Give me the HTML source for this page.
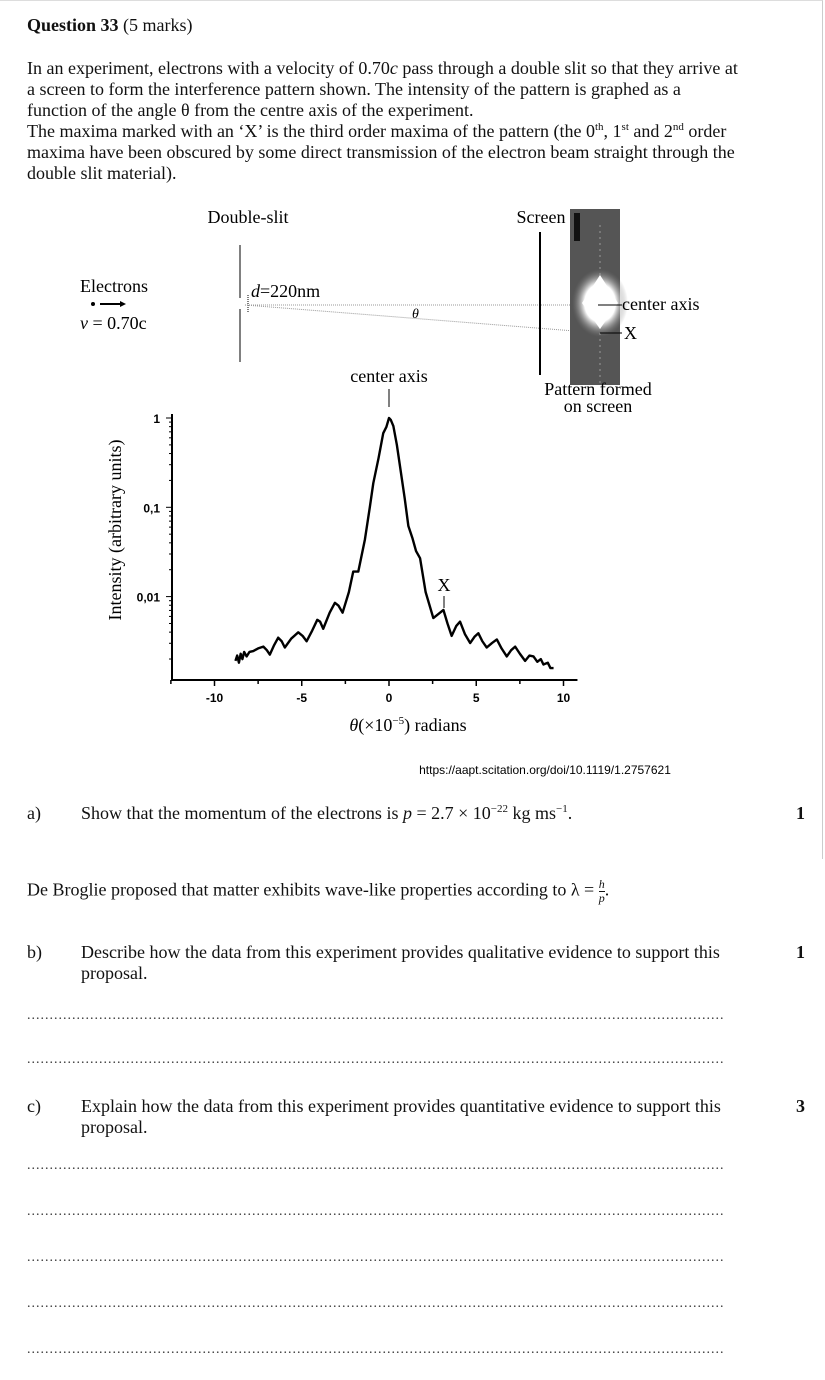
<!DOCTYPE html>
<html><head><meta charset="utf-8">
<style>
body{margin:0;width:825px;height:1380px;background:#fff;position:relative;font-family:"Liberation Serif",serif;font-size:18px;color:#111;overflow:hidden}
.t{position:absolute;white-space:nowrap;line-height:21px}
.dots{position:absolute;left:27px;width:697px;overflow:hidden;white-space:nowrap;color:#333;font-size:14px;letter-spacing:1px}
sup{font-size:11px;line-height:0}
.fr{display:inline-block;vertical-align:middle;text-align:center;font-size:12px;line-height:13px;font-style:italic}
.fr span{display:block}
.fr span:first-child{border-bottom:1px solid #111}
</style></head><body>
<div style="position:absolute;left:0;top:0;width:822px;height:858px;border-right:1px solid #ccc;border-top:1px solid #ddd"></div>
<div class="t" style="left:27px;top:15px"><b>Question 33</b> (5 marks)</div>
<div class="t" style="left:27px;top:58px">In an experiment, electrons with a velocity of 0.70<i>c</i> pass through a double slit so that they arrive at<br>a screen to form the interference pattern shown. The intensity of the pattern is graphed as a<br>function of the angle θ from the centre axis of the experiment.<br>The maxima marked with an ‘X’ is the third order maxima of the pattern (the 0<sup>th</sup>, 1<sup>st</sup> and 2<sup>nd</sup> order<br>maxima have been obscured by some direct transmission of the electron beam straight through the<br>double slit material).</div>

<svg width="825" height="760" style="position:absolute;left:0;top:195px" font-family="Liberation Serif, serif">
<defs><radialGradient id="g" cx="50%" cy="50%" r="50%"><stop offset="0" stop-color="#fff"/><stop offset="0.55" stop-color="#fff"/><stop offset="1" stop-color="#777" stop-opacity="0"/></radialGradient></defs>
<g>
<text x="248" y="28" font-size="18" text-anchor="middle">Double-slit</text>
<text x="541" y="28" font-size="18" text-anchor="middle">Screen</text>
<text x="80" y="97" font-size="18">Electrons</text>
<circle cx="93" cy="109" r="2" fill="#000"/><line x1="100" y1="109" x2="120" y2="109" stroke="#000" stroke-width="2"/><polygon points="120,106 126,109 120,112"/>
<text x="80" y="134" font-size="18"><tspan font-style="italic">v</tspan> = 0.70c</text>
<line x1="240" y1="50" x2="240" y2="103" stroke="#000"/><line x1="240" y1="114" x2="240" y2="167" stroke="#000"/>
<line x1="248" y1="100" x2="248" y2="118" stroke="#000" stroke-dasharray="1,1"/>
<text x="251" y="102" font-size="18"><tspan font-style="italic">d</tspan>=220nm</text>
<line x1="245" y1="110" x2="600" y2="110" stroke="#999" stroke-dasharray="1,1"/>
<line x1="245" y1="110" x2="600" y2="138" stroke="#999" stroke-dasharray="1,1"/>
<text x="412" y="123" font-size="14" font-style="italic">θ</text>
<line x1="540" y1="37" x2="540" y2="180" stroke="#000" stroke-width="2"/>
<rect x="570" y="14" width="50" height="176" fill="#555"/>
<rect x="574" y="18" width="6" height="28" fill="#111"/>
<line x1="600" y1="30" x2="600" y2="190" stroke="#999" stroke-width="1" stroke-dasharray="2,4"/>
<ellipse cx="600" cy="108" rx="28" ry="34" fill="url(#g)"/>
<polygon points="600,80 618,108 600,134 582,108" fill="#fff"/>
<line x1="598" y1="110" x2="622" y2="110" stroke="#000"/><text x="622" y="115" font-size="18">center axis</text>
<line x1="600" y1="138" x2="622" y2="138" stroke="#000"/><text x="624" y="144" font-size="18">X</text>
<text x="598" y="200" font-size="18" text-anchor="middle">Pattern formed</text>
<text x="598" y="217" font-size="18" text-anchor="middle">on screen</text>
<text x="389" y="187" font-size="18" text-anchor="middle">center axis</text>
<line x1="389" y1="194" x2="389" y2="212" stroke="#000"/>
<text x="444" y="396" font-size="18" text-anchor="middle">X</text>
<line x1="444" y1="401" x2="444" y2="413" stroke="#000"/>
</g>
<g id="chart"></g>
<text transform="translate(121,335) rotate(-90)" font-size="18" text-anchor="middle">Intensity (arbitrary units)</text>
<text x="408" y="536" font-size="18" text-anchor="middle"><tspan font-style="italic">θ</tspan>(×10<tspan font-size="11" dy="-7">−5</tspan><tspan dy="7">) radians</tspan></text>
<text x="545" y="579" font-size="12" font-family="Liberation Sans, sans-serif" text-anchor="middle">https://aapt.scitation.org/doi/10.1119/1.2757621</text>
</svg>

<div class="t" style="left:27px;top:803px">a)</div>
<div class="t" style="left:81px;top:803px">Show that the momentum of the electrons is <i>p</i> = 2.7 × 10<sup>−22</sup> kg ms<sup>−1</sup>.</div>
<div class="t" style="left:796px;top:803px"><b>1</b></div>
<div class="t" style="left:27px;top:878px">De Broglie proposed that matter exhibits wave-like properties according to λ = <span class="fr"><span>h</span><span>p</span></span>.</div>
<div class="t" style="left:27px;top:942px">b)</div>
<div class="t" style="left:81px;top:942px">Describe how the data from this experiment provides qualitative evidence to support this<br>proposal.</div>
<div class="t" style="left:796px;top:942px"><b>1</b></div>
<div class="dots" style="top:1008px">..................................................................................................................................................................</div>
<div class="dots" style="top:1052px">..................................................................................................................................................................</div>
<div class="t" style="left:27px;top:1096px">c)</div>
<div class="t" style="left:81px;top:1096px">Explain how the data from this experiment provides quantitative evidence to support this<br>proposal.</div>
<div class="t" style="left:796px;top:1096px"><b>3</b></div>
<div class="dots" style="top:1158px">..................................................................................................................................................................</div>
<div class="dots" style="top:1204px">..................................................................................................................................................................</div>
<div class="dots" style="top:1250px">..................................................................................................................................................................</div>
<div class="dots" style="top:1296px">..................................................................................................................................................................</div>
<div class="dots" style="top:1342px">..................................................................................................................................................................</div>

<script>
const thetaVals=[-8.8,-8.7,-8.6,-8.5,-8.4,-8.3,-8.16,-8.0,-7.78,-7.5,-7.2,-7.0,-6.83,-6.6,-6.35,-6.15,-5.97,-5.6,-5.2,-4.95,-4.72,-4.4,-4.11,-3.95,-3.77,-3.4,-3.1,-2.9,-2.66,-2.3,-2.05,-1.76,-1.38,-1.1,-0.9,-0.6,-0.33,-0.15,0,0.1,0.25,0.45,0.63,0.9,1.11,1.35,1.55,1.78,2.1,2.54,2.8,3.12,3.35,3.59,3.85,4.07,4.35,4.65,4.9,5.12,5.35,5.6,5.9,6.18,6.45,6.75,7.0,7.23,7.5,7.8,8.05,8.28,8.5,8.7,8.85,9.1,9.25,9.43];
const logIntensity=[-2.72,-2.66,-2.74,-2.64,-2.70,-2.62,-2.67,-2.62,-2.61,-2.58,-2.56,-2.60,-2.65,-2.55,-2.46,-2.50,-2.57,-2.47,-2.40,-2.44,-2.50,-2.38,-2.26,-2.28,-2.36,-2.18,-2.07,-2.10,-2.18,-1.95,-1.72,-1.72,-1.36,-1.0,-0.73,-0.45,-0.17,-0.1,0,-0.02,-0.09,-0.3,-0.54,-0.9,-1.21,-1.35,-1.49,-1.57,-1.95,-2.24,-2.20,-2.15,-2.30,-2.44,-2.33,-2.28,-2.42,-2.52,-2.45,-2.41,-2.50,-2.57,-2.52,-2.48,-2.58,-2.67,-2.60,-2.56,-2.64,-2.72,-2.66,-2.67,-2.73,-2.70,-2.76,-2.74,-2.80,-2.80];
const xTickVals=[-10,-5,0,5,10];
const xTickLabels=["-10","-5","0","5","10"];
const yTickVals=[0,-1,-2];
const yTickLabels=["1","0,1","0,01"];
const NS='http://www.w3.org/2000/svg';
const g=document.getElementById('chart');
const X0=172,Y0=485;
const sx=v=>389+v*17.45;
const sy=l=>223-l*89.3;
function mk(t,a){const e=document.createElementNS(NS,t);for(const k in a)e.setAttribute(k,a[k]);g.appendChild(e);return e;}
let ax=mk('path',{d:`M${X0},${sy(0)-4} V${Y0} H${sx(10.8)}`,fill:'none',stroke:'#000','stroke-width':2});


for(let v=-12.5;v<=10.01;v+=2.5){const t=mk('line',{x1:sx(v),x2:sx(v),y1:Y0,y2:Y0+(v%5===0?6:4),stroke:'#000','stroke-width':1.5});

}
xTickVals.forEach((v,i)=>{const t=mk('text',{x:sx(v),y:Y0+22,'font-size':12,'font-weight':'bold','font-family':'Liberation Sans, sans-serif','text-anchor':'middle'});t.textContent=xTickLabels[i];

});
for(let d=0;d>=-3;d--){for(let m=1;m<10;m++){const yy=sy(d-1+Math.log10(m));if(yy>Y0||yy<sy(0)-1)continue;const t=mk('line',{x1:X0-(m===1?6:3),x2:X0,y1:yy,y2:yy,stroke:'#000','stroke-width':1});

}}
mk('line',{x1:X0-6,x2:X0,y1:sy(0),y2:sy(0),stroke:'#000'});
yTickVals.forEach((v,i)=>{const t=mk('text',{x:X0-12,y:sy(v)+5,'font-size':12,'font-weight':'bold','font-family':'Liberation Sans, sans-serif','text-anchor':'end'});t.textContent=yTickLabels[i];

});
const p=mk('polyline',{points:thetaVals.map((v,i)=>sx(v)+','+sy(logIntensity[i])).join(' '),fill:'none',stroke:'#000','stroke-width':2.4,'stroke-linejoin':'round'});


</script>
</body></html>
